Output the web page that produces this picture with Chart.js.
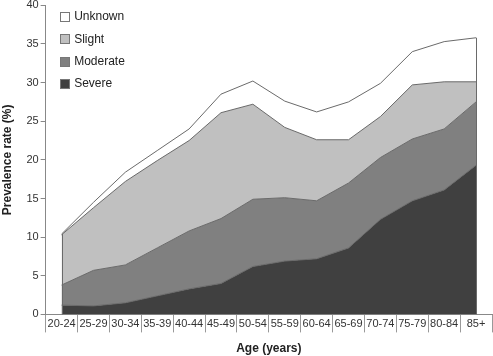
<!DOCTYPE html>
<html><head><meta charset="utf-8">
<script src="https://cdn.jsdelivr.net/npm/chart.js@4/dist/chart.umd.min.js"></script>
<style>html,body{margin:0;padding:0;background:#fff}</style>
</head><body>
<canvas id="c" width="493" height="356"></canvas>
<script>
// Categories
const ageGroups = ['20-24','25-29','30-34','35-39','40-44','45-49','50-54','55-59','60-64','65-69','70-74','75-79','80-84','85+'];
// Prevalence (%) per severity (stacked components)
const severe   = [1.2, 1.1, 1.5, 2.4, 3.3, 4.0, 6.2, 6.9, 7.2, 8.6, 12.3, 14.7, 16.1, 19.3];
const moderate = [2.6, 4.6, 4.9, 6.2, 7.5, 8.4, 8.7, 8.2, 7.5, 8.4, 8.0, 8.0, 7.9, 8.2];
const slight   = [6.5, 8.1, 10.8, 11.3, 11.7, 13.7, 12.3, 9.1, 7.9, 5.6, 5.3, 7.0, 6.1, 2.6];
const unknown  = [0.1, 0.7, 1.2, 1.3, 1.5, 2.4, 3.0, 3.4, 3.6, 4.9, 4.3, 4.3, 5.2, 5.7];
const seriesNames = ['Severe','Moderate','Slight','Unknown'];
const yTicks = [0,5,10,15,20,25,30,35,40];

const FONT = '"Liberation Sans", Arial, Helvetica, sans-serif';
const fills = ['#404040','#808080','#c0c0c0','#ffffff'];
const lineCol = '#6a6a6a';

const edgePlugin = {
  id: 'edges',
  afterDatasetsDraw(chart) {
    const xs = chart.scales.x, ys = chart.scales.y, ctx = chart.ctx;
    const n = chart.data.labels.length;
    const tot = i => chart.data.datasets.reduce((s, d) => s + d.data[i], 0);
    ctx.save();
    ctx.strokeStyle = lineCol; ctx.lineWidth = 1;
    [0, n - 1].forEach(i => {
      const px = Math.round(xs.getPixelForValue(i)) + 0.5;
      ctx.beginPath();
      ctx.moveTo(px, ys.getPixelForValue(0));
      ctx.lineTo(px, ys.getPixelForValue(tot(i)));
      ctx.stroke();
    });
    ctx.restore();
  }
};

const legendPlugin = {
  id: 'boxLegend',
  afterDraw(chart) {
    const ctx = chart.ctx, a = chart.chartArea;
    const ds = chart.data.datasets.slice().reverse();
    ctx.save();
    ctx.font = '12px ' + FONT;
    ctx.textBaseline = 'middle';
    ds.forEach((d, k) => {
      const cy = a.top + 11 + k * 22.4;
      const bx = Math.round(a.left + 14) + 0.5;
      const by = Math.round(cy - 4.5) + 0.5;
      ctx.fillStyle = d.backgroundColor;
      ctx.fillRect(bx, by, 9, 9);
      ctx.strokeStyle = '#777'; ctx.lineWidth = 1;
      ctx.strokeRect(bx, by, 9, 9);
      ctx.fillStyle = '#222';
      ctx.fillText(d.label, a.left + 28.5, cy + 0.5);
    });
    ctx.restore();
  }
};

const values = [severe, moderate, slight, unknown];
new Chart(document.getElementById('c'), {
  type: 'line',
  data: {
    labels: ageGroups,
    datasets: values.map((v, i) => ({
      label: seriesNames[i],
      data: v,
      backgroundColor: fills[i],
      borderColor: lineCol,
      borderWidth: 1,
      pointRadius: 0,
      tension: 0,
      fill: i === 0 ? 'origin' : '-1'
    }))
  },
  options: {
    responsive: false,
    animation: false,
    devicePixelRatio: 1,
    layout: { padding: { top: 5, right: 1, left: 0, bottom: 0 } },
    plugins: { legend: { display: false }, tooltip: { enabled: false } },
    scales: {
      x: {
        type: 'category',
        offset: true,
        grid: { offset: true, drawOnChartArea: false, tickLength: 18, color: '#999' },
        border: { color: '#888' },
        ticks: { padding: -15, maxRotation: 0, autoSkip: false, color: '#333', font: { family: FONT, size: 11 } },
        title: { display: true, text: 'Age (years)', color: '#222', font: { family: FONT, size: 12, weight: 'bold' }, padding: { top: 26, bottom: 0 } }
      },
      y: {
        stacked: true,
        min: 0, max: 40,
        afterBuildTicks: s => { s.ticks = yTicks.map(v => ({ value: v })); },
        grid: { drawOnChartArea: false, tickLength: 5, color: '#888' },
        border: { color: '#888' },
        ticks: { padding: 2, color: '#333', font: { family: FONT, size: 11, lineHeight: 0.6 } },
        title: { display: true, text: 'Prevalence rate (%)', color: '#222', font: { family: FONT, size: 12, weight: 'bold' }, padding: { top: 0, bottom: 10 } }
      }
    }
  },
  plugins: [edgePlugin, legendPlugin]
});
</script>
</body></html>
